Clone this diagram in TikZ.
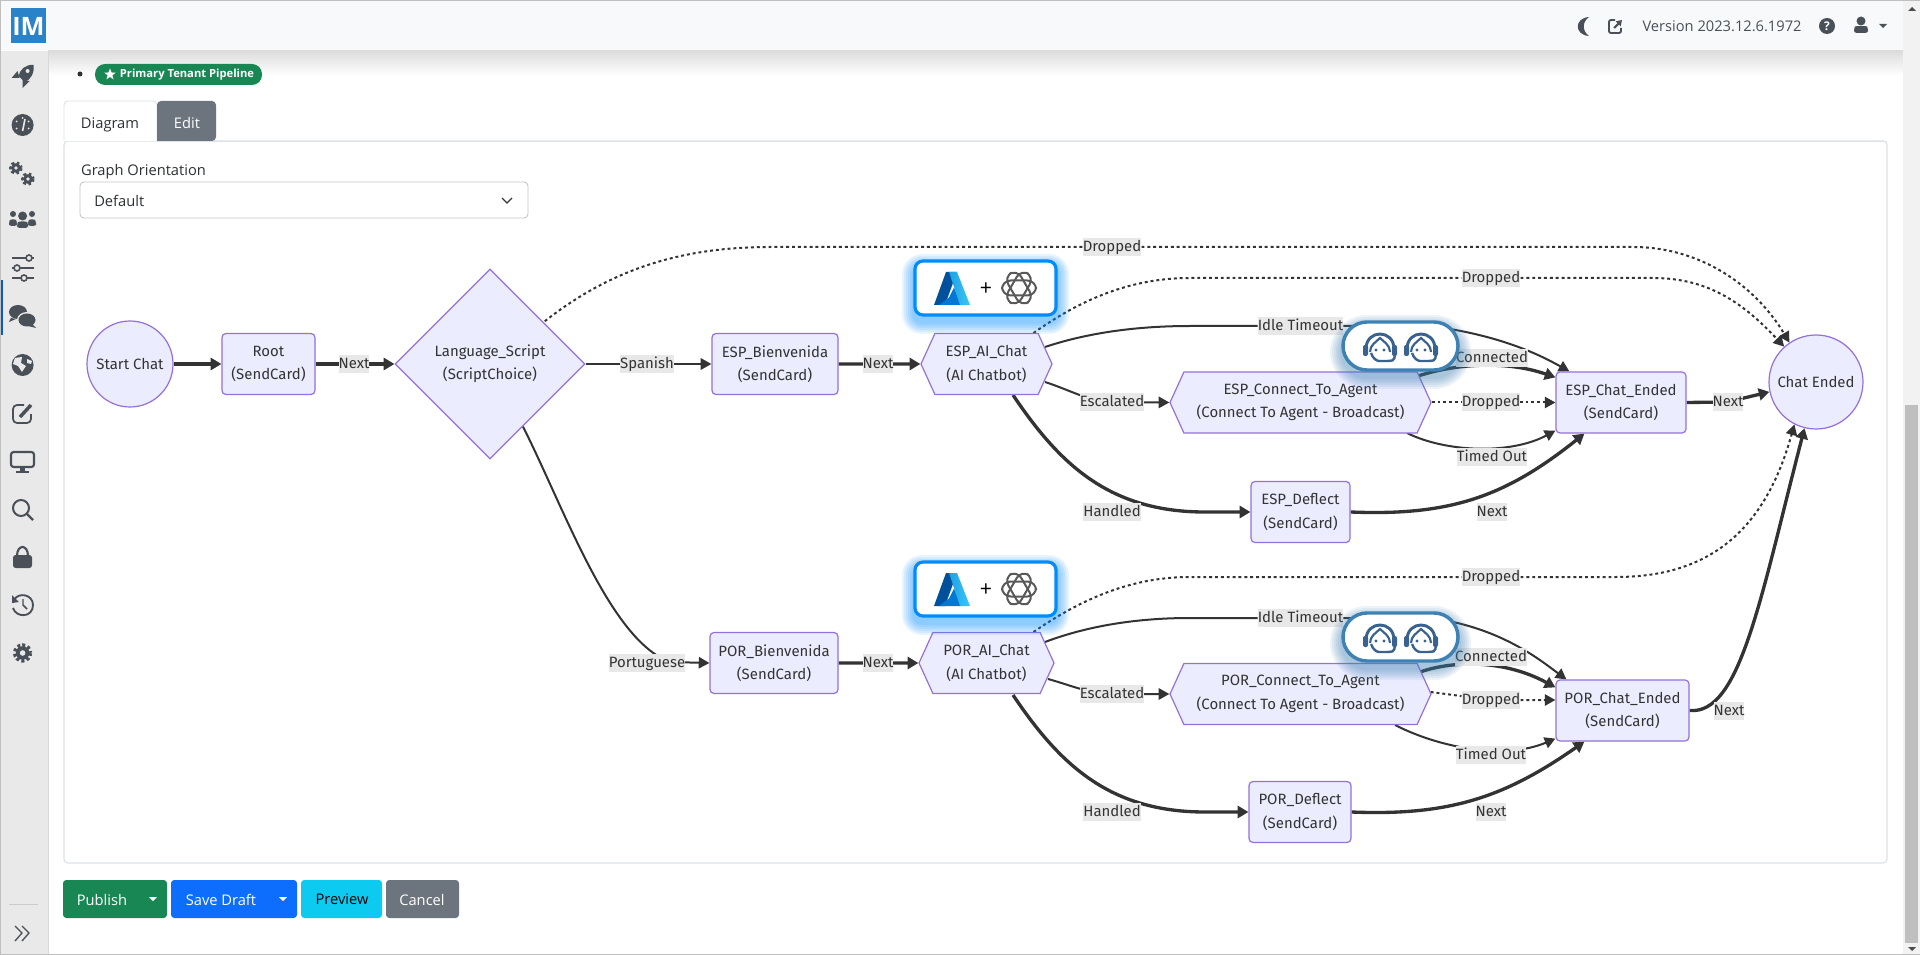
\documentclass[tikz,border=0pt]{standalone}
\usepackage{fontspec}
\setmainfont{Open Sans}
\newfontfamily\flowfont{Fira Sans}
\usetikzlibrary{shapes.geometric,shapes.symbols,arrows.meta,calc}
\definecolor{flowfill}{RGB}{236,236,255}
\definecolor{flowdraw}{RGB}{147,112,219}
\definecolor{flowline}{RGB}{51,51,51}
\definecolor{flowlabel}{RGB}{232,232,232}
\definecolor{sidegrey}{RGB}{233,233,233}
\definecolor{icongrey}{RGB}{73,80,87}
\definecolor{navlight}{RGB}{248,249,250}
\definecolor{panelline}{RGB}{222,226,230}
\definecolor{btngreen}{RGB}{25,135,84}
\definecolor{btnblue}{RGB}{13,110,253}
\definecolor{btncyan}{RGB}{13,202,240}
\definecolor{btngrey}{RGB}{108,117,125}
\definecolor{logoblue}{RGB}{42,130,200}
\definecolor{aiglow}{RGB}{0,140,255}
\definecolor{agentblue}{RGB}{62,130,180}
\definecolor{agentdark}{RGB}{58,98,142}
\definecolor{azuredeep}{RGB}{0,80,155}
\definecolor{azuremid}{RGB}{0,120,212}
\definecolor{azurelight}{RGB}{60,200,245}
\newcommand{\px}{0.75pt}
\pgfdeclarelayer{edges}
\pgfsetlayers{edges,main}
\tikzset{
    flowbox/.style={rectangle, rounded corners=3pt, draw=flowdraw, fill=flowfill, line width=0.9pt, inner sep=0pt, minimum height=61*\px, text=flowline, align=center, font=\flowfont\fontsize{11.2}{17.6}\selectfont},
    flowhex/.style={signal, signal to=east and west, signal pointer angle=131, draw=flowdraw, fill=flowfill, line width=0.9pt, inner sep=0pt, minimum height=61*\px, text=flowline, align=center, font=\flowfont\fontsize{11.2}{17.6}\selectfont},
    flowcircle/.style={circle, draw=flowdraw, fill=flowfill, line width=0.9pt, inner sep=0pt, text=flowline, font=\flowfont\fontsize{11.2}{13}\selectfont},
    flowtag/.style={fill=flowlabel, inner ysep=0.2pt, inner xsep=0pt, text height=10pt, text depth=3pt, text=flowline, font=\flowfont\fontsize{11.2}{13}\selectfont},
    flowthick/.style={-{Triangle[length=8pt,width=9pt]}, draw=flowline, line width=2.5pt},
    flownormal/.style={-{Triangle[length=8pt,width=8.5pt]}, draw=flowline, line width=1.5pt},
    flowdotted/.style={-{Triangle[length=8pt,width=8.5pt]}, draw=flowline, line width=1.5pt, dash pattern=on 2.2pt off 2.2pt},
    uitext/.style={text=#1, inner sep=0pt, font=\fontsize{11}{13}\selectfont},
    uibutton/.style={rounded corners=2.5pt, fill=#1, inner sep=0pt, minimum height=38*\px},
    pics/gearicon/.style={code={
        \draw[icongrey, line width=#1*0.5pt, dash pattern=on 1.9pt off 1.5pt] (0,0) circle (#1*0.8);
        \fill[icongrey] (0,0) circle (#1*0.8);
        \fill[sidegrey] (0,0) circle (#1*0.33);
    }},
    pics/headset/.style={code={
        \draw[agentdark, line width=2.2pt] (-14,2) .. controls (-14,-18) and (14,-18) .. (14,2);
        \draw[agentdark, line width=1.6pt] (-10,5) .. controls (-10,-2) and (-4,-5) .. (0,-9) .. controls (4,-5) and (10,-2) .. (10,5);
        \draw[agentdark, line width=1.8pt, rounded corners=2pt] (-9,6) .. controls (-7,12) and (-3,14) .. (2,14) -- (10,14) .. controls (14,13) and (15,10) .. (15,7);
        \fill[agentdark, rounded corners=1.5pt] (-17,-2) rectangle (-12,9);
        \fill[agentdark, rounded corners=1.5pt] (12,-2) rectangle (17,9);
        \fill[agentdark] (-4,3) circle (1.7);
        \fill[agentdark] (4,3) circle (1.7);
    }},
    pics/azurelogo/.style={code={
        \fill[azuredeep] (-6,-16.5) -- (5,-16.5) -- (-7,16.5) -- (-18,16.5) -- cycle;
        \fill[azuremid] (2,-1) -- (9,16.5) -- (-13,16.5) -- (-3,9) -- cycle;
        \shade[left color=azuremid!50!azurelight, right color=azurelight] (5,-16.5) -- (18,16.5) -- (8,16.5) -- (-3,-16.5) -- cycle;
    }},
    pics/openailogo/.style={code={
        \foreach \a in {0,60,120} {
            \draw[rotate=\a, black!65, line width=1.5pt, rounded corners=6.5pt] (-17,-7.5) rectangle (17,7.5);
        }
    }}
}
\newcommand{\softglow}[6]{%
    \foreach \g in {12,10,...,2} {
        \fill[#6, opacity=0.09, rounded corners=(#5+\g)*\px] (#1-\g,#2-\g+6) rectangle (#3+\g,#4+\g+6);
    }
}
\begin{document}
\begin{tikzpicture}[x=\px, y=-\px, every node/.style={font=\small}]
    \useasboundingbox (0,0) rectangle (1920,955);

    % Flow nodes, first branch
    \node[flowcircle, minimum size=86*\px] (startchat) at (130,364) {Start Chat};
    \node[flowbox, minimum width=93*\px] (root) at (268.5,364) {Root\\(SendCard)};
    \node[diamond, aspect=1, draw=flowdraw, fill=flowfill, line width=0.9pt, inner sep=0pt, minimum width=190*\px, minimum height=190*\px, text=flowline, align=center, font=\flowfont\fontsize{11.2}{17.6}\selectfont] (lang) at (490,364) {Language\_Script\\(ScriptChoice)};
    \node[flowbox, minimum width=126*\px] (espwelcome) at (775,364) {ESP\_Bienvenida\\(SendCard)};
    \node[flowhex, minimum width=131*\px] (espai) at (986.5,364) {ESP\_AI\_Chat\\(AI Chatbot)};
    \node[flowhex, minimum width=261*\px] (espconn) at (1300.5,402.5) {ESP\_Connect\_To\_Agent\\(Connect To Agent - Broadcast)};
    \node[flowbox, minimum width=99*\px] (espdeflect) at (1300.5,512) {ESP\_Deflect\\(SendCard)};
    \node[flowbox, minimum width=130*\px] (espend) at (1621,402.5) {ESP\_Chat\_Ended\\(SendCard)};
    \node[flowcircle, minimum size=94*\px] (chatend) at (1816,382) {Chat Ended};

    % Flow nodes, second branch
    \node[flowbox, minimum width=128*\px] (porwelcome) at (774,663) {POR\_Bienvenida\\(SendCard)};
    \node[flowhex, minimum width=135*\px] (porai) at (986.5,663) {POR\_AI\_Chat\\(AI Chatbot)};
    \node[flowhex, minimum width=261*\px] (porconn) at (1300.5,694) {POR\_Connect\_To\_Agent\\(Connect To Agent - Broadcast)};
    \node[flowbox, minimum width=102*\px] (pordeflect) at (1300,812) {POR\_Deflect\\(SendCard)};
    \node[flowbox, minimum width=133*\px] (porend) at (1622.5,710.5) {POR\_Chat\_Ended\\(SendCard)};

    % Edge labels
    \node[flowtag] (tagnexta) at (354,364) {Next};
    \node[flowtag] (tagspanish) at (647,364) {Spanish};
    \node[flowtag] (tagnextb) at (878,364) {Next};
    \node[flowtag] (tagdropa) at (1112,247) {Dropped};
    \node[flowtag] (tagdropb) at (1491,278) {Dropped};
    \node[flowtag] (tagidlea) at (1300.5,326) {Idle Timeout};
    \node[flowtag] (tagesca) at (1112,402) {Escalated};
    \node[flowtag] (taghanda) at (1112,512) {Handled};
    \node[flowtag] (tagconna) at (1492,358) {Connected};
    \node[flowtag] (tagdropc) at (1491,402) {Dropped};
    \node[flowtag] (tagtimea) at (1492,457) {Timed Out};
    \node[flowtag] (tagnextc) at (1492,512) {Next};
    \node[flowtag] (tagnextd) at (1728,402) {Next};
    \node[flowtag] (tagport) at (647,663) {Portuguese};
    \node[flowtag] (tagnexte) at (878,663) {Next};
    \node[flowtag] (tagdropd) at (1491,577) {Dropped};
    \node[flowtag] (tagidleb) at (1300.5,618) {Idle Timeout};
    \node[flowtag] (tagescb) at (1112,694) {Escalated};
    \node[flowtag] (taghandb) at (1112,812) {Handled};
    \node[flowtag] (tagconnb) at (1491,657) {Connected};
    \node[flowtag] (tagdrope) at (1491,700) {Dropped};
    \node[flowtag] (tagtimeb) at (1491,755) {Timed Out};
    \node[flowtag] (tagnextf) at (1491,812) {Next};
    \node[flowtag] (tagnextg) at (1729,711) {Next};

    \begin{pgfonlayer}{edges}
        % Page behind the flow
        \fill[white] (0,0) rectangle (1920,955);
        \shade[top color=black!14, bottom color=white] (48,50) rectangle (1903,76);
        \draw[panelline, line width=0.9pt, rounded corners=3pt] (64,141) -- (64,863) -- (1887,863) -- (1887,141) -- cycle;

        % Edges of the first branch
        \draw[flowthick] (startchat) -- (root);
        \draw[flowthick] (root) -- (lang);
        \draw[flownormal] (lang) -- (espwelcome);
        \draw[flowthick] (espwelcome) -- (espai);
        \draw[flowdotted] ($(lang.north east)+(7,5)$) .. controls (610,270) and (680,247) .. (770,247) -- (tagdropa) -- (1633,247) .. controls (1700,247) and (1755,285) .. (chatend.124);
        \draw[flowdotted] ($(espai.center)+(47,-31)$) .. controls (1080,300) and (1130,278) .. (1190,278) -- (tagdropb) -- (1653,278) .. controls (1710,278) and (1745,305) .. (chatend.132);
        \draw[flownormal] ($(espai.center)+(58.5,-17)$) .. controls (1090,332) and (1140,326) .. (1190,326) -- (tagidlea) -- (1430,326) .. controls (1500,335) and (1540,355) .. ($(espend.north west)+(14,0)$);
        \draw[flownormal] ($(espai.center)+(58.5,18)$) .. controls (1070,390) and (1090,402) .. (1112,402) -- (espconn.west);
        \draw[flowthick] ($(espai.center)+(26.5,31)$) .. controls (1060,465) and (1110,512) .. (1205,512) -- (espdeflect.west);
        \draw[flowthick] ($(espconn.center)+(117.5,-26.5)$) .. controls (1455,364) and (1505,360) .. ($(espend.north west)+(0,6)$);
        \draw[flowdotted] (espconn.east) -- (espend.west);
        \draw[flownormal] ($(espconn.center)+(106.5,30.5)$) .. controls (1445,452) and (1510,455) .. ($(espend.south west)+(0,-3)$);
        \draw[flowthick] (espdeflect.east) .. controls (1450,516) and (1505,497) .. ($(espend.south west)+(29,0)$);
        \draw[flowthick] (espend.east) -- (tagnextd.center) -- (1744,398) -- (chatend.192);

        % Edges of the second branch
        \draw[flownormal] ($(lang.south)+(33,-33)$) .. controls (565,510) and (610,640) .. (670,662) -- (porwelcome.west);
        \draw[flowthick] (porwelcome) -- (porai);
        \draw[flowdotted] ($(porai.center)+(47,-31)$) .. controls (1080,600) and (1130,577) .. (1190,577) -- (tagdropd) -- (1616,577) .. controls (1710,577) and (1765,530) .. (chatend.243);
        \draw[flownormal] ($(porai.center)+(58.5,-21)$) .. controls (1090,625) and (1140,618) .. (1190,618) -- (tagidleb) -- (1430,618) .. controls (1500,627) and (1540,660) .. ($(porend.north west)+(11,0)$);
        \draw[flownormal] ($(porai.center)+(61.5,16)$) .. controls (1070,685) and (1090,694) .. (1112,694) -- (porconn.west);
        \draw[flowthick] ($(porai.center)+(26.5,32)$) .. controls (1060,765) and (1110,812) .. (1205,812) -- (pordeflect.west);
        \draw[flowthick] ($(porconn.center)+(119.5,-22)$) .. controls (1455,660) and (1505,660) .. ($(porend.north west)+(0,8)$);
        \draw[flowdotted] (porconn.east) ++(-1,-2) -- (tagdrope) -- (porend.west |- tagdrope);
        \draw[flownormal] ($(porconn.center)+(94.5,31)$) .. controls (1440,748) and (1505,760) .. ($(porend.south west)+(0,-3)$);
        \draw[flowthick] (pordeflect.east) .. controls (1450,816) and (1505,797) .. ($(porend.south west)+(29,0)$);
        \draw[flowthick] (porend.east) .. controls (1740,715) and (1760,600) .. (chatend.256);
    \end{pgfonlayer}

    % AI badges
    \softglow{914}{260}{1057}{316}{8}{aiglow}
    \softglow{914}{561}{1057}{617}{8}{aiglow}
    \node[rounded corners=6pt, draw=aiglow, line width=2.4pt, fill=white, minimum width=141*\px, minimum height=54*\px, inner sep=0pt] (espbadge) at (985.5,288) {};
    \node[rounded corners=6pt, draw=aiglow, line width=2.4pt, fill=white, minimum width=141*\px, minimum height=54*\px, inner sep=0pt] (porbadge) at (985.5,589) {};
    \node[inner sep=0pt, font=\fontsize{16}{16}\selectfont] (espplus) at (986,289) {+};
    \node[inner sep=0pt, font=\fontsize{16}{16}\selectfont] (porplus) at (986,590) {+};
    \pic at (952,288.5) {azurelogo};
    \pic at (952,589.5) {azurelogo};
    \pic at (1019,288) {openailogo};
    \pic at (1019,589) {openailogo};

    % Agent badges
    \softglow{1342}{321}{1459}{371}{25}{agentblue}
    \softglow{1342}{612}{1459}{662}{25}{agentblue}
    \node[rounded corners=18pt, draw=agentblue, line width=2.6pt, fill=white, minimum width=115*\px, minimum height=48*\px, inner sep=0pt] (espagents) at (1400.5,346) {};
    \node[rounded corners=18pt, draw=agentblue, line width=2.6pt, fill=white, minimum width=115*\px, minimum height=48*\px, inner sep=0pt] (poragents) at (1400.5,637) {};
    \pic at (1380,347) {headset};
    \pic at (1421,347) {headset};
    \pic at (1380,638) {headset};
    \pic at (1421,638) {headset};

    % Top bar
    \fill[navlight] (0,0) rectangle (1903,50);
    \fill[logoblue] (11,8) rectangle (46,43);
    \node[text=white, inner sep=0pt, font=\bfseries\fontsize{19}{19}\selectfont] (logotext) at (28.5,26) {IM};
    \node[uitext=icongrey] (version) at (1722,26) {Version 2023.12.6.1972};
    \fill[icongrey] (1589,17) .. controls (1574,18) and (1574,35) .. (1589,36) .. controls (1582,31) and (1582,22) .. (1589,17) -- cycle;
    \draw[icongrey, line width=1.4pt, rounded corners=1.5pt] (1615,20) -- (1609,20) -- (1609,33) -- (1621,33) -- (1621,28);
    \draw[icongrey, line width=1.6pt, -{Triangle[length=4pt,width=5pt]}] (1614,28) -- (1622,20);
    \fill[icongrey] (1827,26) circle (8);
    \node[text=white, inner sep=0pt, font=\bfseries\fontsize{9}{9}\selectfont] (helptext) at (1827,26) {?};
    \fill[icongrey] (1861,21) circle (4.5);
    \fill[icongrey, rounded corners=2pt] (1854,33) -- (1854,29) .. controls (1855,26) and (1867,26) .. (1868,29) -- (1868,33) -- cycle;
    \fill[icongrey] (1879,24) -- (1887,24) -- (1883,28) -- cycle;

    % Sidebar
    \fill[sidegrey] (1,51) rectangle (48,955);
    \draw[black!15, line width=0.6pt] (48,51) -- (48,955);
    \fill[btnblue!80!black] (1,280) rectangle (3,335);
    \draw[black!20, line width=0.5pt] (9,904) -- (38,904);
    \draw[icongrey, line width=1pt] (15,926) -- (22,933) -- (15,941) (22,926) -- (29,933) -- (22,941);
    % rocket
    \begin{scope}[shift={(22.6,77)}]
        \fill[icongrey] (11,-12) .. controls (3,-13) and (-3,-7) .. (-4,-1) -- (2,5) .. controls (8,3) and (12,-4) .. cycle;
        \fill[icongrey] (-5,-6) -- (-11,1) -- (-3,1) -- cycle (7,4) -- (0,11) -- (0,3) -- cycle;
        \fill[sidegrey] (5,-6) circle (2);
    \end{scope}
    % gauge
    \fill[icongrey] (22.6,125) circle (11);
    \draw[sidegrey, line width=1.2pt] (22.6,131) -- (25,119);
    \foreach \a in {150,210,270,330,30} {\fill[sidegrey] ($(22.6,125)+(\a:7)$) circle (1);}
    % gears
    \pic at (16,168) {gearicon=6};
    \pic at (28,179) {gearicon=6};
    % users
    \foreach \ux/\uy/\uw in {22.6/216/4.5, 13/214/3, 32/214/3} {
        \fill[icongrey] (\ux,\uy) circle (\uw);
        \fill[icongrey, rounded corners=2pt] (\ux-\uw-1,\uy+12) -- (\ux-\uw-1,\uy+9) .. controls (\ux-\uw,\uy+5) and (\ux+\uw,\uy+5) .. (\ux+\uw+1,\uy+9) -- (\ux+\uw+1,\uy+12) -- cycle;
    }
    % sliders
    \foreach \sy/\sx in {258/29, 268/17, 278/24} {
        \draw[icongrey, line width=1.4pt] (12,\sy) -- (34,\sy);
        \draw[icongrey, fill=sidegrey, line width=1.2pt] (\sx,\sy) circle (3);
    }
    % comments
    \fill[icongrey] (18,312) ellipse (9 and 7);
    \fill[icongrey] (11,318) -- (9,322) -- (16,319) -- cycle;
    \fill[sidegrey] (27,320) ellipse (10 and 8);
    \fill[icongrey] (27,320) ellipse (8.5 and 6.5);
    \fill[icongrey] (32,324) -- (36,328) -- (28,326) -- cycle;
    % globe
    \fill[icongrey] (22.6,365) circle (11);
    \fill[sidegrey] (15,358) -- (22,357) -- (21,363) -- (26,366) -- (22,372) -- (18,366) -- (13,364) -- cycle;
    \fill[sidegrey] (27,359) -- (32,361) -- (31,364) -- (27,363) -- cycle;
    % edit
    \draw[icongrey, line width=1.3pt, rounded corners=3pt] (24,405) -- (13,405) -- (13,423) -- (31,423) -- (31,414);
    \draw[icongrey, line width=2.6pt] (20,417) -- (31,405);
    % monitor
    \draw[icongrey, line width=1.6pt, rounded corners=2pt, fill=sidegrey] (11,452) rectangle (34,467);
    \fill[icongrey] (20,467) rectangle (25,472);
    \fill[icongrey] (16,471) rectangle (29,473);
    % search
    \draw[icongrey, line width=1.5pt] (21,508) circle (8);
    \draw[icongrey, line width=1.7pt] (27,514) -- (33,520);
    % lock
    \fill[icongrey, rounded corners=2pt] (13,555) rectangle (32,568);
    \draw[icongrey, line width=1.6pt] (17,556) .. controls (17,544) and (28,544) .. (28,556);
    % history
    \draw[icongrey, line width=1.4pt] (14,600) .. controls (18,592) and (33,594) .. (33,605) .. controls (33,618) and (16,618) .. (13,608);
    \fill[icongrey] (12,595) -- (12,603) -- (19,602) -- cycle;
    \draw[icongrey, line width=1.1pt] (23,599) -- (23,605) -- (27,609);
    % settings
    \pic at (22.6,653) {gearicon=8.5};

    % Badge, tabs and selector
    \fill[icongrey!60!black] (80,74) circle (2.5);
    \node[rounded corners=7.5pt, fill=btngreen, minimum width=167*\px, minimum height=21*\px, inner sep=0pt] (tenantbadge) at (178.5,74.5) {};
    \node[star, star points=5, star point ratio=2.4, fill=white, inner sep=0pt, minimum size=12*\px] (tenantstar) at (110,74.5) {};
    \node[text=white, inner sep=0pt, font=\bfseries\fontsize{8.4}{10}\selectfont] (tenanttext) at (187,75) {Primary Tenant Pipeline};
    \draw[panelline, line width=0.7pt, fill=white, rounded corners=3pt] (64,141) -- (64,101) -- (157,101) -- (157,141);
    \draw[panelline, line width=0.7pt] (157,141) -- (1887,141);
    \fill[btngrey, rounded corners=3pt] (157,141) -- (157,101) -- (216,101) -- (216,141) [sharp corners] -- cycle;
    \node[uitext=icongrey!60!black] (tabdiagram) at (110,124.5) {Diagram};
    \node[uitext=white] (tabedit) at (187,123.5) {Edit};
    \node[uitext=icongrey!60!black] (orientlabel) at (143.5,171.5) {Graph Orientation};
    \node[rounded corners=3pt, draw=black!22, line width=0.7pt, minimum width=448*\px, minimum height=36*\px, inner sep=0pt] (orientselect) at (304,200) {};
    \node[uitext=icongrey!60!black, anchor=west] (orientvalue) at (94,200.5) {Default};
    \draw[icongrey!70!black, line width=1pt] (502,198) -- (507,203) -- (512,198);

    % Buttons
    \node[uibutton=btngreen, minimum width=104*\px] (btnpublish) at (115,899) {};
    \node[uibutton=btnblue, minimum width=126*\px] (btnsave) at (234,899) {};
    \node[uibutton=btncyan, minimum width=81*\px] (btnpreview) at (341.5,899) {};
    \node[uibutton=btngrey, minimum width=73*\px] (btncancel) at (422.5,899) {};
    \node[uitext=white] (textpublish) at (102,899.5) {Publish};
    \node[uitext=white] (textsave) at (221,899.5) {Save Draft};
    \node[uitext=black] (textpreview) at (342,899.5) {Preview};
    \node[uitext=white] (textcancel) at (422,899.5) {Cancel};
    \fill[white] (149,897) -- (157,897) -- (153,901) -- cycle;
    \fill[white] (279,897) -- (287,897) -- (283,901) -- cycle;

    % Scrollbar and window edge
    \fill[black!5] (1903,0) rectangle (1920,955);
    \fill[black!25] (1905,405) rectangle (1918,943);
    \fill[black!70] (1908,11) -- (1916,11) -- (1912,7) -- cycle;
    \fill[black!70] (1908,947) -- (1916,947) -- (1912,951) -- cycle;
    \draw[black!25, line width=1.2pt] (0,955) -- (0,0) -- (1920,0);
    \draw[black!25, line width=1.2pt] (0,954.5) -- (1920,954.5);
\end{tikzpicture}
\end{document}
